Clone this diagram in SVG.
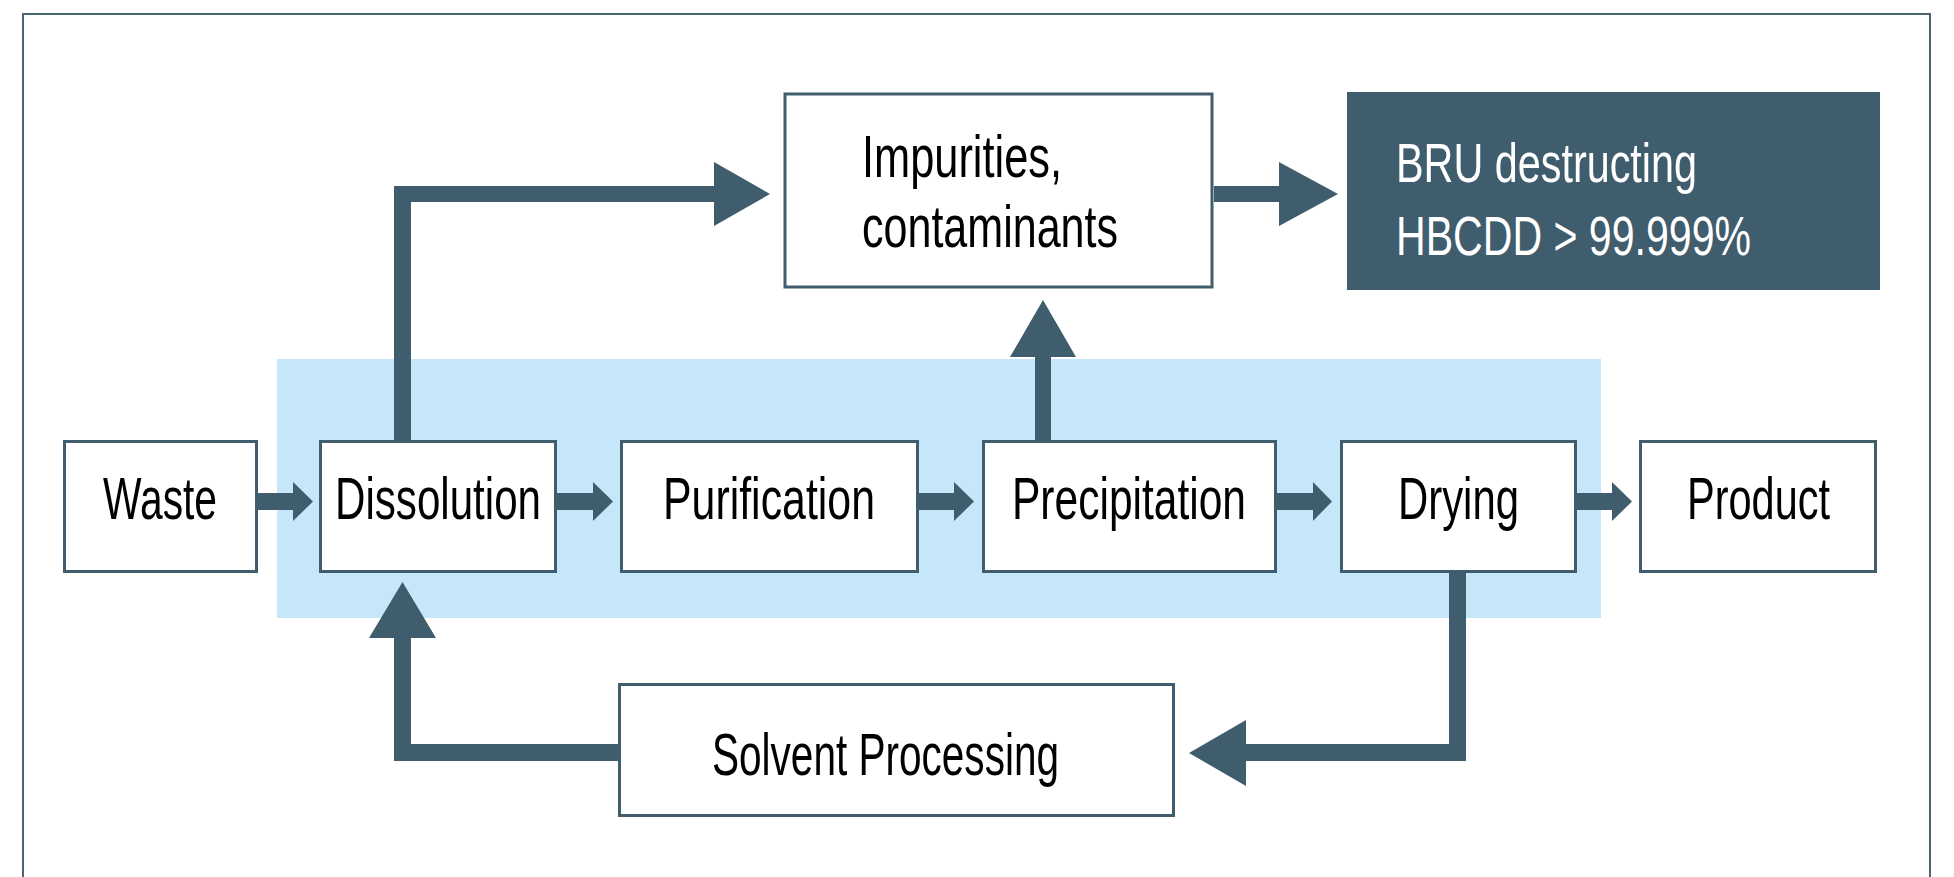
<svg xmlns="http://www.w3.org/2000/svg" width="1954" height="877" viewBox="0 0 1954 877">
<style>
.box{fill:#ffffff;stroke:#405d6d;stroke-width:3}
.lbl{font-family:"Liberation Sans",Arial,sans-serif;font-size:60px;fill:#000000}
.wl{font-family:"Liberation Sans",Arial,sans-serif;font-size:56px;fill:#ffffff}
.ar{fill:#405d6d}
</style>
<rect x="0" y="0" width="1954" height="877" fill="#ffffff"/>
<rect x="23" y="14" width="1907" height="900" fill="none" stroke="#4b6473" stroke-width="2"/>
<rect id="band" x="277" y="359" width="1324" height="259" fill="#c5e7f9"/>
<g id="connectors">
  <!-- Waste -> Dissolution -->
  <polygon class="ar" points="258,493 293,493 293,482 313,501.5 293,521 293,510 258,510"/>
  <!-- Dissolution -> Purification -->
  <polygon class="ar" points="557,493 593,493 593,482 613,501.5 593,521 593,510 557,510"/>
  <!-- Purification -> Precipitation -->
  <polygon class="ar" points="919,493 954,493 954,482 974,501.5 954,521 954,510 919,510"/>
  <!-- Precipitation -> Drying -->
  <polygon class="ar" points="1277,493 1313,493 1313,482 1332,501.5 1313,521 1313,510 1277,510"/>
  <!-- Drying -> Product -->
  <polygon class="ar" points="1577,493 1612,493 1612,482 1632,501.5 1612,521 1612,510 1577,510"/>
  <!-- Dissolution -> Impurities -->
  <polygon class="ar" points="394,441 394,186 714,186 714,162 770,194 714,226 714,202 411,202 411,441"/>
  <!-- Impurities -> BRU -->
  <polygon class="ar" points="1214,186 1279,186 1279,162 1338,194 1279,226 1279,202 1214,202"/>
  <!-- Precipitation -> Impurities -->
  <polygon class="ar" points="1035,441 1035,357 1010,357 1043,300 1076,357 1051,357 1051,441"/>
  <!-- Drying -> Solvent Processing -->
  <polygon class="ar" points="1449,573 1466,573 1466,761 1246,761 1246,786 1189,753 1246,720 1246,744 1449,744"/>
  <!-- Solvent Processing -> Dissolution -->
  <polygon class="ar" points="618,744 618,761 394,761 394,638 369,638 402.5,582 436,638 411,638 411,744"/>
</g>
<g id="waste"><rect class="box" x="64.5" y="441.5" width="192" height="130"/><text class="lbl" x="103" y="519" textLength="114" lengthAdjust="spacingAndGlyphs">Waste</text></g>
<g id="dissolution"><rect class="box" x="320.5" y="441.5" width="235" height="130"/><text class="lbl" x="335" y="519" textLength="206" lengthAdjust="spacingAndGlyphs">Dissolution</text></g>
<g id="purification"><rect class="box" x="621.5" y="441.5" width="296" height="130"/><text class="lbl" x="663" y="519" textLength="212" lengthAdjust="spacingAndGlyphs">Purification</text></g>
<g id="precipitation"><rect class="box" x="983.5" y="441.5" width="292" height="130"/><text class="lbl" x="1012" y="519" textLength="234" lengthAdjust="spacingAndGlyphs">Precipitation</text></g>
<g id="drying"><rect class="box" x="1341.5" y="441.5" width="234" height="130"/><text class="lbl" x="1398" y="519" textLength="121" lengthAdjust="spacingAndGlyphs">Drying</text></g>
<g id="product"><rect class="box" x="1640.5" y="441.5" width="235" height="130"/><text class="lbl" x="1687" y="519" textLength="143" lengthAdjust="spacingAndGlyphs">Product</text></g>
<g id="impurities"><rect class="box" x="785" y="94" width="427" height="193" stroke-width="4"/><text class="lbl" x="862" y="177" textLength="200" lengthAdjust="spacingAndGlyphs">Impurities,</text><text class="lbl" x="862" y="247" textLength="256" lengthAdjust="spacingAndGlyphs">contaminants</text></g>
<g id="bru"><rect x="1347" y="92" width="533" height="198" fill="#405d6d"/><text class="wl" x="1396" y="182" textLength="301" lengthAdjust="spacingAndGlyphs">BRU destructing</text><text class="wl" x="1396" y="255" textLength="355" lengthAdjust="spacingAndGlyphs">HBCDD &gt; 99.999%</text></g>
<g id="solvent"><rect class="box" x="619.5" y="684.5" width="554" height="131"/><text class="lbl" x="712" y="775" textLength="347" lengthAdjust="spacingAndGlyphs">Solvent Processing</text></g>
</svg>
